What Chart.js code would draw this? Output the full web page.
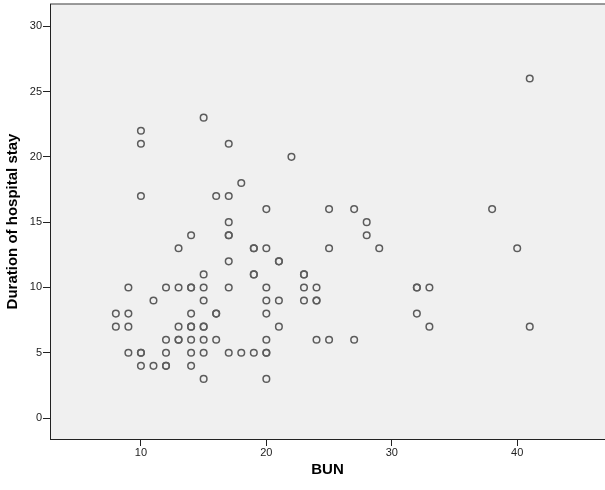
<!DOCTYPE html>
<html>
<head>
<meta charset="utf-8">
<script src="https://cdn.jsdelivr.net/npm/chart.js@4/dist/chart.umd.min.js"></script>
<style>
	html, body { margin: 0; padding: 0; background: #fff; }
	#wrap { width: 605px; height: 490px; position: relative; }
</style>
</head>
<body>
<div id="wrap"><canvas id="chart"></canvas></div>
<script>
// BUN (x) and duration of hospital stay (y), one entry per patient
const bun = [
	8, 8,
	9, 9, 9, 9,
	10, 10, 10, 10, 10, 10,
	11, 11,
	12, 12, 12, 12, 12,
	13, 13, 13, 13, 13,
	14, 14, 14, 14, 14, 14, 14, 14, 14,
	15, 15, 15, 15, 15, 15, 15, 15, 15,
	16, 16, 16, 16,
	17, 17, 17, 17, 17, 17, 17, 17,
	18, 18,
	19, 19, 19, 19, 19,
	20, 20, 20, 20, 20, 20, 20, 20, 20,
	21, 21, 21, 21,
	22,
	23, 23, 23, 23,
	24, 24, 24, 24,
	25, 25, 25,
	27, 27,
	28, 28,
	29,
	32, 32, 32,
	33, 33,
	38,
	40,
	41, 41
];
const stay = [
	8, 7,
	10, 8, 7, 5,
	22, 21, 17, 5, 5, 4,
	9, 4,
	10, 6, 5, 4, 4,
	13, 10, 7, 6, 6,
	14, 10, 10, 8, 7, 7, 6, 5, 4,
	23, 11, 10, 9, 7, 7, 6, 5, 3,
	17, 8, 8, 6,
	21, 17, 15, 14, 14, 12, 10, 5,
	18, 5,
	13, 13, 11, 11, 5,
	16, 13, 10, 9, 8, 6, 5, 5, 3,
	12, 12, 9, 7,
	20,
	11, 11, 10, 9,
	10, 9, 9, 6,
	16, 13, 6,
	16, 6,
	15, 14,
	13,
	10, 10, 8,
	10, 7,
	16,
	13,
	26, 7
];
const xTicks = [10, 20, 30, 40];
const yTicks = [0, 5, 10, 15, 20, 25, 30];

const points = bun.map((x, i) => ({ x, y: stay[i] }));

const tickFont = { family: 'Liberation Sans, Arial, sans-serif', size: 11 };
const titleFont = { family: 'Liberation Sans, Arial, sans-serif', size: 15, weight: 'bold' };

// grey plot background and the thin frame line along the top (runs off the right edge)
const plotFrame = {
	id: 'plotFrame',
	beforeDraw(chart) {
		const { ctx, chartArea: a } = chart;
		const right = chart.width;
		ctx.save();
		ctx.fillStyle = '#f0f0f0';
		ctx.fillRect(a.left, a.top, right - a.left, a.bottom - a.top);
		ctx.strokeStyle = '#7a7a7a';
		ctx.lineWidth = 1.5;
		ctx.beginPath();
		ctx.moveTo(a.left, a.top);
		ctx.lineTo(right, a.top);
		ctx.stroke();
		ctx.restore();
	}
};

const noPad = (scale) => {
	scale.paddingTop = 0;
	scale.paddingBottom = 0;
	scale.paddingLeft = 0;
	scale.paddingRight = 0;
};

new Chart(document.getElementById('chart'), {
	type: 'scatter',
	data: {
		datasets: [
			{
				data: points,
				backgroundColor: 'rgba(0,0,0,0)',
				borderColor: '#5c5c5c',
				borderWidth: 1.5,
				pointRadius: 3.3,
				pointHoverRadius: 3.3,
			},
		]
	},
	options: {
		responsive: true,
		maintainAspectRatio: false,
		animation: false,
		layout: { autoPadding: false, padding: { top: 4, left: 0, right: 0, bottom: 0 } },
		plugins: {
			legend: { display: false },
			tooltip: { enabled: false },
		},
		scales: {
			x: {
				type: 'linear',
				min: 2.75,
				max: 47,
				afterBuildTicks: (s) => { s.ticks = xTicks.map(v => ({ value: v })); },
				afterFit: (s) => { s.height = 51; noPad(s); },
				border: { display: true, color: '#222', width: 1 },
				grid: { drawOnChartArea: false, drawTicks: true, tickLength: 7, color: '#222' },
				ticks: { font: tickFont, color: '#222', padding: 0, maxRotation: 0 },
				title: { display: true, text: 'BUN', font: titleFont, color: '#000', padding: { top: 0, bottom: 11 } },
			},
			y: {
				type: 'linear',
				min: -1.6,
				max: 31.7,
				afterBuildTicks: (s) => { s.ticks = yTicks.map(v => ({ value: v })); },
				afterFit: (s) => { s.width = 50; noPad(s); },
				border: { display: true, color: '#222', width: 1 },
				grid: { drawOnChartArea: false, drawTicks: true, tickLength: 7, color: '#222' },
				ticks: { font: tickFont, color: '#222', padding: 1 },
				title: { display: true, text: 'Duration of hospital stay', font: titleFont, color: '#000', padding: { top: 4, bottom: 0 } },
			},
		},
	},
	plugins: [plotFrame],
});
</script>
</body>
</html>
